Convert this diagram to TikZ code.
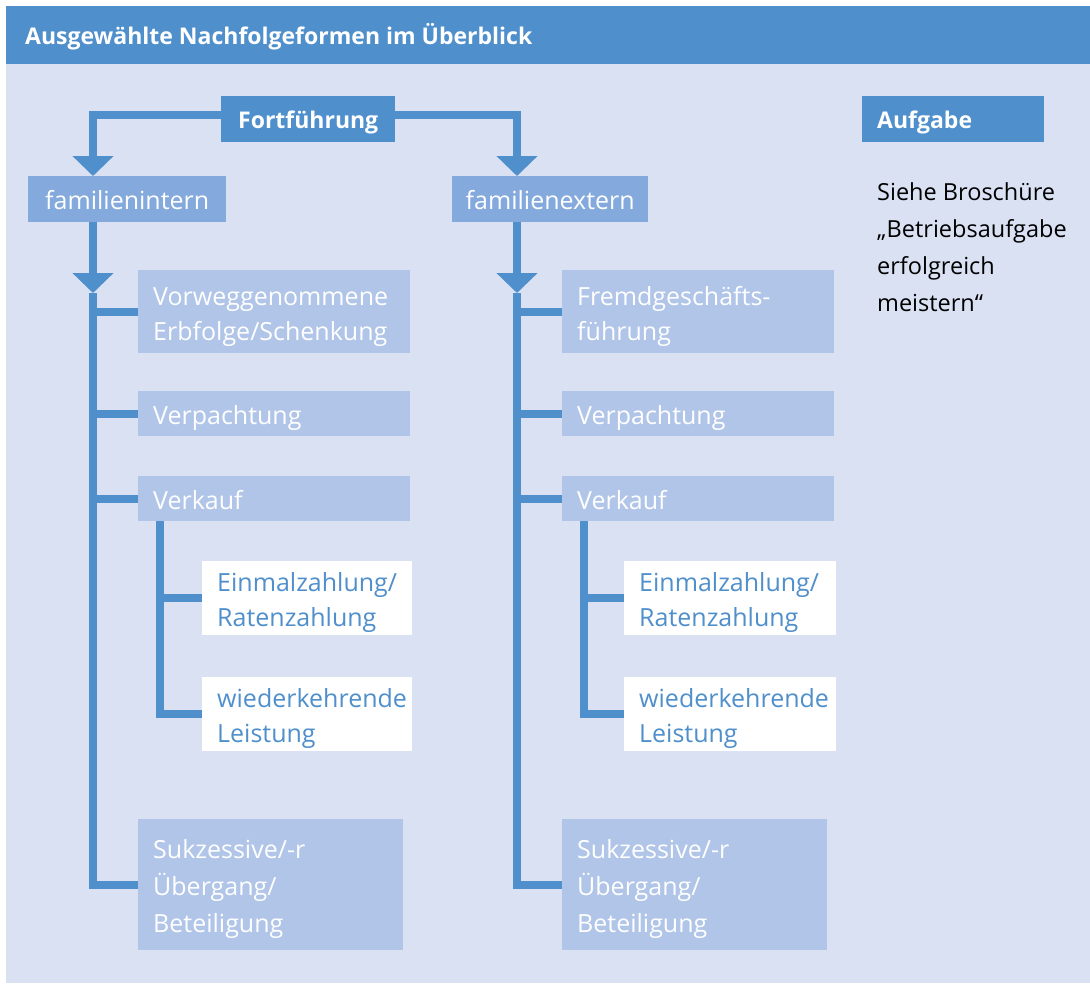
\documentclass[tikz,border=0pt]{standalone}
\usepackage{fontspec}
\setmainfont{Open Sans}
\usetikzlibrary{arrows.meta,calc}
\definecolor{hdr}{HTML}{4F8FCB}
\definecolor{bgc}{HTML}{D9E1F3}
\definecolor{midc}{HTML}{84A9DC}
\definecolor{lightc}{HTML}{B0C5E8}
\newcommand\fsbox{\fontsize{25}{35}\selectfont}
\newcommand\fsboxw{\fontsize{25}{37}\selectfont}
\newcommand\fshead{\fontsize{23}{30}\selectfont\bfseries}
\newcommand\fsside{\fontsize{23.5}{37}\selectfont}
\newcommand\boxstrut{\rule[-7pt]{0pt}{35pt}}
\tikzset{
  basebox/.style={anchor=north west, inner xsep=15pt, inner ysep=0pt, align=left, font=\fsbox, execute at begin node=\boxstrut},
  lbox/.style={basebox, fill=lightc, text=white},
  wbox/.style={basebox, fill=white, text=hdr},
  mbox/.style={basebox, fill=midc, text=white, align=center, inner xsep=0pt},
  hbox/.style={anchor=north west, fill=hdr, text=white, font=\fshead, inner sep=0pt, text depth=0pt},
  conn/.style={draw=hdr, line width=8pt, line join=miter, line cap=butt},
  tip/.style={-{Triangle[width=40pt,length=20pt]}}
}
\begin{document}
\begin{tikzpicture}[x=1pt,y=-1pt]
\useasboundingbox (0,0) rectangle (1090,983);
\fill[white] (0,0) rectangle (1090,983);
\fill[bgc] (6,6) rectangle (1090,983);
\fill[hdr] (6,6) rectangle (1090,64);
\node[anchor=base west, inner sep=0pt, text=white, font=\fshead] (title) at (25,44) {Ausgewählte Nachfolgeformen im Überblick};

% top level
\node[hbox, minimum width=174pt, minimum height=46pt, align=center] (fort) at (221,96) {Fortführung};
\node[mbox, minimum width=198pt, minimum height=46pt] (fi) at (28,176) {familienintern};
\node[mbox, minimum width=196pt, minimum height=46pt] (fe) at (452,176) {familienextern};

% right info
\node[hbox, minimum width=182pt, minimum height=46pt, text width=152pt, inner xsep=15pt, align=left] (aufg) at (862,96) {Aufgabe};
\node[anchor=base west, inner sep=0pt, align=left, font=\fsside, text=black] (info) at (877,311) {Siehe Broschüre\\„Betriebsaufgabe\\erfolgreich\\meistern“};

% left column
\node[lbox, minimum width=272pt, minimum height=83pt, text width=242pt] (vor) at (138,270) {Vorweggenommene\\Erbfolge/Schenkung};
\node[lbox, minimum width=272pt, minimum height=45pt, text width=242pt] (vp1) at (138,391) {Verpachtung};
\node[lbox, minimum width=272pt, minimum height=45pt, text width=242pt] (vk1) at (138,476) {Verkauf};
\node[wbox, minimum width=210pt, minimum height=74pt, text width=180pt] (ez1) at (202,561) {Einmalzahlung/\\Ratenzahlung};
\node[wbox, minimum width=210pt, minimum height=74pt, text width=180pt] (wl1) at (202,677) {wiederkehrende\\Leistung};
\node[lbox, font=\fsboxw, minimum width=265pt, minimum height=131pt, text width=235pt] (sk1) at (138,819) {Sukzessive/-r\\Übergang/\\Beteiligung};

% right column
\node[lbox, minimum width=272pt, minimum height=83pt, text width=242pt] (fg) at (562,270) {Fremdgeschäfts-\\führung};
\node[lbox, minimum width=272pt, minimum height=45pt, text width=242pt] (vp2) at (562,391) {Verpachtung};
\node[lbox, minimum width=272pt, minimum height=45pt, text width=242pt] (vk2) at (562,476) {Verkauf};
\node[wbox, minimum width=212pt, minimum height=74pt, text width=182pt] (ez2) at (624,561) {Einmalzahlung/\\Ratenzahlung};
\node[wbox, minimum width=212pt, minimum height=74pt, text width=182pt] (wl2) at (624,677) {wiederkehrende\\Leistung};
\node[lbox, font=\fsboxw, minimum width=265pt, minimum height=131pt, text width=235pt] (sk2) at (562,819) {Sukzessive/-r\\Übergang/\\Beteiligung};

% guide coordinates
\coordinate (lx) at (93,0);
\coordinate (rx) at (517,0);
\coordinate (sx1) at (160,0);
\coordinate (sx2) at (584,0);
\coordinate (a1) at (93,293);
\coordinate (a2) at (517,293);

% top connectors
\draw[conn, tip] ([yshift=4pt]fort.west) -| (fi.north -| lx);
\draw[conn, tip] ([yshift=4pt]fort.east) -| (fe.north -| rx);

% left trunk
\draw[conn, tip] (fi.south -| lx) -- (a1);
\draw[conn] (a1) |- (sk1.west);
\draw[conn] (vor.west -| lx) -- (vor.west);
\draw[conn] (vp1.west -| lx) -- (vp1.west);
\draw[conn] (vk1.west -| lx) -- (vk1.west);
\draw[conn] (vk1.south -| sx1) |- (wl1.west);
\draw[conn] (ez1.west -| sx1) -- (ez1.west);

% right trunk
\draw[conn, tip] (fe.south -| rx) -- (a2);
\draw[conn] (a2) |- (sk2.west);
\draw[conn] (fg.west -| rx) -- (fg.west);
\draw[conn] (vp2.west -| rx) -- (vp2.west);
\draw[conn] (vk2.west -| rx) -- (vk2.west);
\draw[conn] (vk2.south -| sx2) |- (wl2.west);
\draw[conn] (ez2.west -| sx2) -- (ez2.west);
\end{tikzpicture}
\end{document}
